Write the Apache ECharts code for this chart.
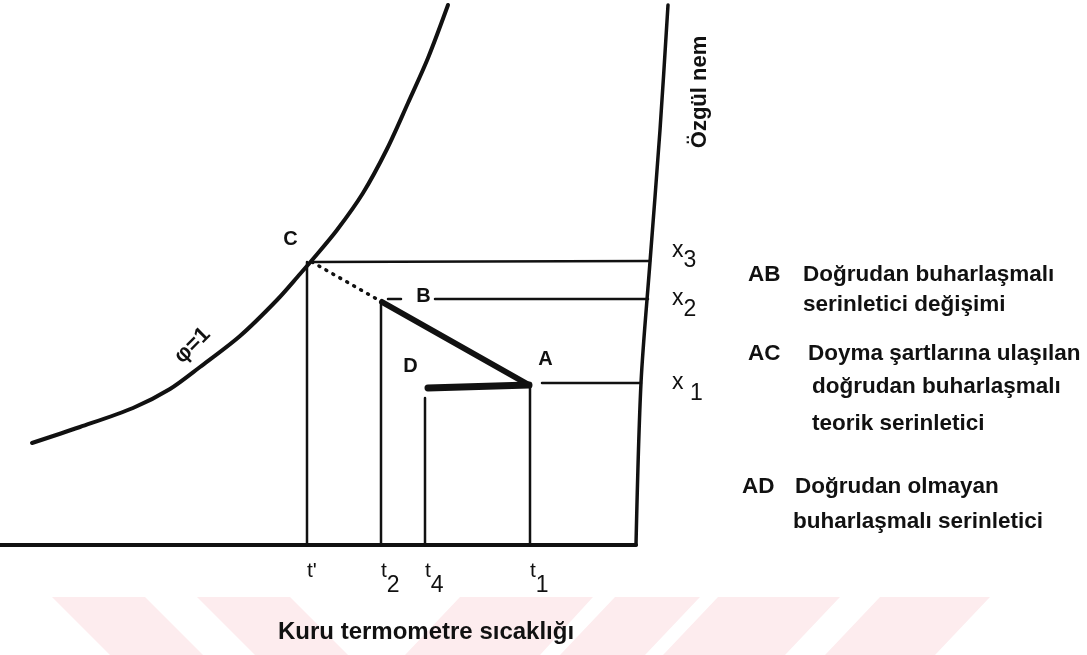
<!DOCTYPE html>
<html>
<head>
<meta charset="utf-8">
<script src="https://cdn.jsdelivr.net/npm/echarts@6/dist/echarts.min.js"></script>
<style>
  html, body { margin: 0; padding: 0; background: #fff; }
  #chart { width: 1087px; height: 655px; }
</style>
</head>
<body>
<div id="chart"></div>
<script>
// --- data (x: kuru termometre, y: özgül nem, arbitrary units) ---
const satCurve = [[1.6,5.1],[4.0,5.9],[6.65,6.85],[8.5,7.8],[10.0,8.9],[12.0,10.45],[13.85,12.25],[15.0,13.55],[15.65,14.3],[16.85,15.75],[18.15,17.6],[19.35,19.8],[20.4,22.1],[21.4,24.35],[22.4,27.0]];
const rightEdge = [[33.4,27.0],[33.0,20.75],[32.5,14.15],[32.05,8.1],[31.8,0]];
const baseLine = [[0,0],[31.8,0]];

const tempTicks = [15.35, 19.05, 21.25, 26.5];        // t', t2, t4, t1
const tempNames = ["t'", 't2', 't4', 't1'];
const humTicks = [8.1, 12.3, 14.2];                    // x1, x2, x3
const humNames = ['x1', 'x2', 'x3'];

const ptC = [15.6, 14.15];
const ptB = [19.1, 12.15];
const ptA = [26.45, 8.0];
const ptD = [21.4, 7.85];

const pointLabels = [
  { name: 'C', value: [14.55, 15.25] },
  { name: 'B', value: [21.2, 12.4] },
  { name: 'A', value: [27.3, 9.25] },
  { name: 'D', value: [20.55, 8.9] },
];

const legendRows = [
  ['AB', 'Doğrudan buharlaşmalı', 'serinletici değişimi'],
  ['AC', 'Doyma şartlarına ulaşılan', 'doğrudan buharlaşmalı', 'teorik serinletici'],
  ['AD', 'Doğrudan olmayan', 'buharlaşmalı serinletici'],
];

const INK = '#111';
const FONT = '"Liberation Sans", Arial, sans-serif';
const NONE = 'rgba(0,0,0,0)';

function seg(data, width, extra) {
  return Object.assign({
    type: 'line', data, symbol: 'none', silent: true, smooth: false,
    lineStyle: { color: INK, width, cap: 'round', join: 'round' },
  }, extra || {});
}

const chart = echarts.init(document.getElementById('chart'));

// watermark stripes at the bottom
const stripes = [
  [[52,597],[145,597],[203,655],[110,655]],
  [[197,597],[290,597],[348,655],[255,655]],
  [[460,597],[593,597],[540,655],[405,655]],
  [[615,597],[700,597],[645,655],[560,655]],
  [[718,597],[840,597],[785,655],[663,655]],
  [[880,597],[990,597],[935,655],[825,655]],
];

const graphic = stripes.map(p => ({
  type: 'polygon', z: -10, silent: true,
  shape: { points: p },
  style: { fill: '#fdecee' },
}));

graphic.push({
  type: 'text', left: 278, top: 620,
  style: { text: 'Kuru termometre sıcaklığı', font: 'bold 24px ' + FONT, fill: INK },
});
graphic.push({
  type: 'text', x: 700, y: 92, rotation: Math.PI / 2,
  style: { text: 'Özgül nem', font: 'bold 22px ' + FONT, fill: INK, textAlign: 'center', textVerticalAlign: 'middle' },
});

// legend block on the right
const rowTops = [[275, 305], [354, 387, 424], [487, 522]];
const rowLeft = [[748, 803, 803], [748, 808, 812, 812], [742, 795, 793]];
legendRows.forEach((row, i) => {
  row.forEach((txt, j) => {
    const y = j === 0 ? rowTops[i][0] : rowTops[i][j - 1];
    graphic.push({
      type: 'text', x: rowLeft[i][j], y,
      style: { text: txt, font: 'bold 22.5px ' + FONT, fill: INK, textVerticalAlign: 'middle' },
    });
  });
});

const labelStyle = { show: true, position: [0, 0], align: 'center', verticalAlign: 'middle', formatter: '{b}', fontWeight: 'bold', fontFamily: FONT, color: INK, opacity: 1 };

chart.setOption({
  animation: false,
  grid: { left: 0, right: 417, top: 0, bottom: 110 },
  xAxis: {
    type: 'value', min: 0, max: 33.5,
    axisLine: { show: false }, axisTick: { show: false }, splitLine: { show: false },
    axisLabel: {
      customValues: tempTicks, margin: 16, align: 'left',
      formatter: v => {
        const n = tempNames[tempTicks.indexOf(v)] || '';
        return n.length === 2 && n[1] !== "'" ? '{g|}{t|t}{d|' + n[1] + '}' : '{g|}{t|' + n + '}';
      },
      rich: {
        g: { lineHeight: 36, width: 0 },
        t: { fontSize: 21, fontFamily: FONT, color: INK, lineHeight: 22, verticalAlign: 'top' },
        d: { fontSize: 23, fontFamily: FONT, color: INK, lineHeight: 22, verticalAlign: 'bottom' },
      },
    },
  },
  yAxis: {
    type: 'value', min: 0, max: 27.25, position: 'right',
    axisLine: { show: false }, axisTick: { show: false }, splitLine: { show: false },
    axisLabel: {
      customValues: humTicks, margin: 2, align: 'left',
      formatter: v => {
        const n = humNames[humTicks.indexOf(v)] || 'x ';
        if (n === 'x3') return '{g|}{xt|x}{dm|3}';
        if (n === 'x1') return '{g|}{x|x }{db|1}';
        return '{g|}{x|x}{db|' + n[1] + '}';
      },
      rich: {
        g: { lineHeight: 44, width: 0 },
        x: { fontSize: 23, fontFamily: FONT, color: INK, lineHeight: 22, verticalAlign: 'middle' },
        xt: { fontSize: 23, fontFamily: FONT, color: INK, lineHeight: 22, verticalAlign: 'top' },
        db: { fontSize: 23, fontFamily: FONT, color: INK, lineHeight: 22, verticalAlign: 'bottom' },
        dm: { fontSize: 23, fontFamily: FONT, color: INK, lineHeight: 22, verticalAlign: 'middle' },
      },
    },
  },
  graphic,
  series: [
    seg(satCurve, 4, { smooth: 0.3 }),
    seg(rightEdge, 3.5, { smooth: 0.3 }),
    seg(baseLine, 4),
    // horizontal x lines
    seg([ptC, [32.5, humTicks[2]]], 2.5),
    seg([[19.4, humTicks[1]], [20.05, humTicks[1]]], 2.5),
    seg([[21.75, humTicks[1]], [32.4, humTicks[1]]], 2.5),
    seg([[27.1, humTicks[0]], [32.05, humTicks[0]]], 2.5),
    // vertical t lines
    seg([[tempTicks[0], 0], [tempTicks[0], ptC[1]]], 2.5),
    seg([[tempTicks[1], 0], [tempTicks[1], ptB[1]]], 2.5),
    seg([[tempTicks[2], 0], [tempTicks[2], 7.35]], 2.5),
    seg([[tempTicks[3], 0], [tempTicks[3], ptA[1]]], 2.5),
    // processes
    seg([ptC, ptB], 3, { lineStyle: { color: INK, width: 3.5, type: [1, 7], cap: 'round' } }),
    seg([ptB, ptA], 6),
    seg([ptD, ptA], 7),
    {
      type: 'scatter', silent: true, symbolSize: 1, itemStyle: { color: NONE },
      data: pointLabels,
      label: Object.assign({}, labelStyle, { fontSize: 20 }),
    },
    {
      type: 'scatter', silent: true, symbolSize: 1, itemStyle: { color: NONE },
      data: [{ name: 'φ=1', value: [9.65, 9.95] }],
      label: Object.assign({}, labelStyle, { fontSize: 22, rotate: 45 }),
    },
  ],
});
</script>
</body>
</html>
